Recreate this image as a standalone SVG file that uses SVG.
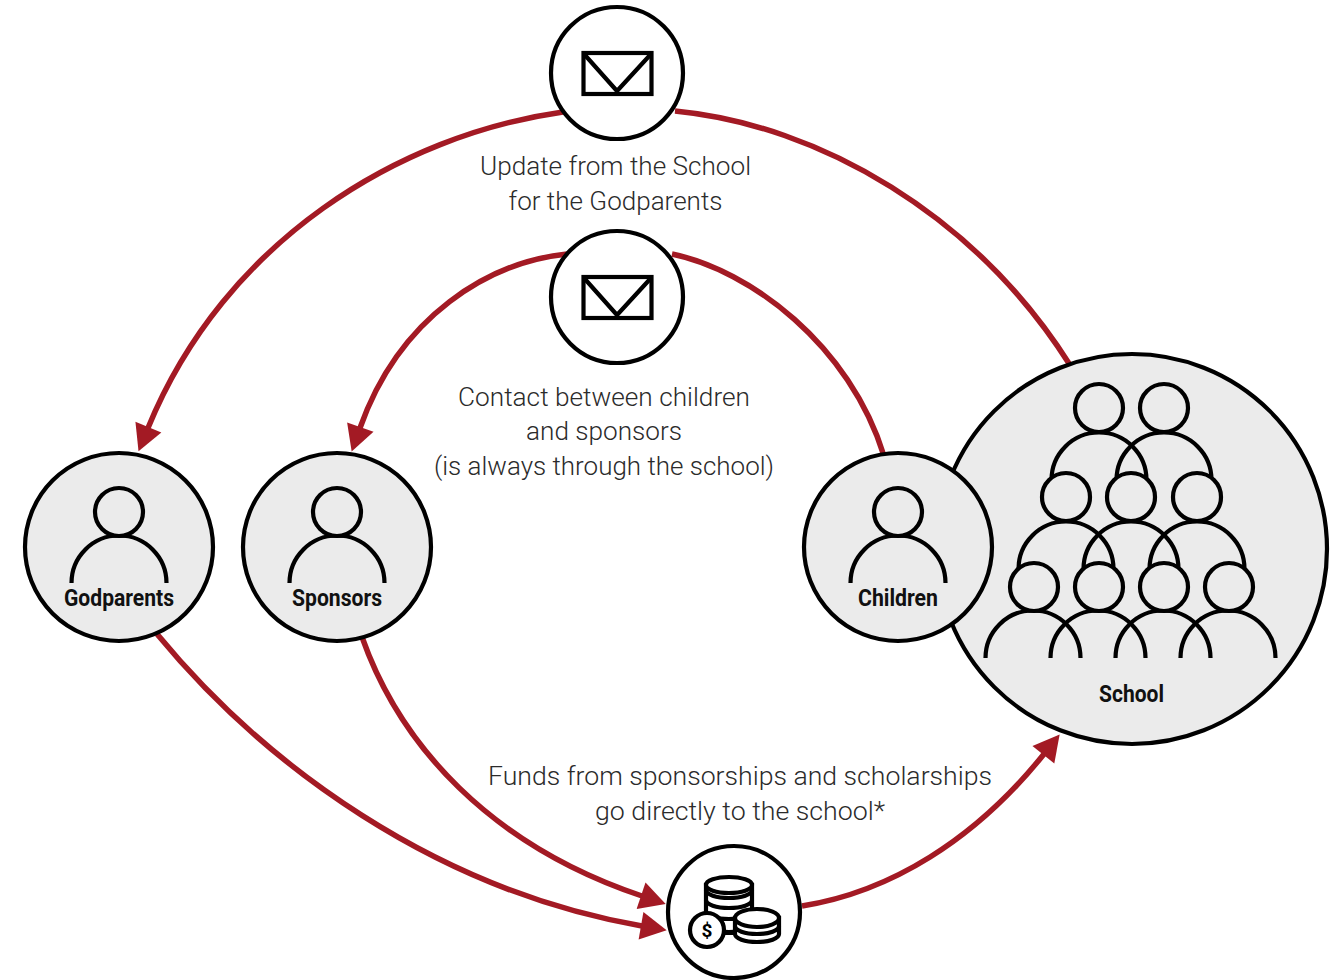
<svg xmlns="http://www.w3.org/2000/svg" xmlns:xlink="http://www.w3.org/1999/xlink" width="1344" height="980" viewBox="0 0 1344 980">
<style>
.conn{fill:none;stroke:#a31a24;stroke-width:5.500;marker-end:url(#arrow)}
.plain{fill:none;stroke:#a31a24;stroke-width:5.500}
.big{fill:#ebebeb;stroke:#000;stroke-width:4.200}
.icon{fill:#fff;stroke:#000;stroke-width:4.200}
.line{fill:none;stroke:#000;stroke-width:4.200}
.head{fill:#ebebeb;stroke:#000;stroke-width:4.200}
.cap{font-family:Roboto,"Liberation Sans",sans-serif;font-weight:300;font-size:26.400px;fill:#2b2b2b;text-anchor:middle}
.lab{font-family:Roboto,"Liberation Sans",sans-serif;font-weight:700;font-size:24px;fill:#111}
</style>
<defs>
<marker id="arrow" markerUnits="userSpaceOnUse" markerWidth="30" markerHeight="30" refX="1" refY="14" orient="auto" overflow="visible"><path d="M0,0L26,14L0,28Z" fill="#a31a24"/></marker>
<g id="person"><path class="line" d="M-47.500,36A47.500,47.500 0 0 1 47.500,36"/><circle class="head" cx="0" cy="-35" r="24"/></g>
<g id="envelope"><rect class="line" x="583.500" y="53" width="68" height="41"/><path class="line" d="M584,54L617,91L651,54"/></g>
<path id="body" class="line" d="M-47.500,48A47.500,47.500 0 0 1 47.500,48"/>
</defs>
<g id="connectors">
<path class="conn" d="M563,112C400,135 225,240 148,428"/>
<path class="plain" d="M675,111C820,125 975,215 1070,365"/>
<path class="conn" d="M567,254C490,262 400,315 360,428"/>
<path class="plain" d="M672,254C750,270 850,345 884,456"/>
<path class="conn" d="M157,634C265,765 435,890 642,926"/>
<path class="conn" d="M362,637C400,745 490,845 642,896"/>
<path class="conn" d="M802,906C890,892 975,840 1044,754"/>
</g>
<g id="school">
<circle class="big" cx="1132" cy="549" r="195"/>
<use href="#body" x="1099" y="432"/>
<use href="#body" x="1164" y="432"/>
<circle class="head" cx="1099" cy="408" r="24"/>
<circle class="head" cx="1164" cy="408" r="24"/>
<use href="#body" x="1066" y="521"/>
<use href="#body" x="1131" y="521"/>
<use href="#body" x="1197" y="521"/>
<circle class="head" cx="1066" cy="497" r="24"/>
<circle class="head" cx="1131" cy="497" r="24"/>
<circle class="head" cx="1197" cy="497" r="24"/>
<use href="#body" x="1033" y="610"/>
<use href="#body" x="1098" y="610"/>
<use href="#body" x="1163" y="610"/>
<use href="#body" x="1228" y="610"/>
<circle class="head" cx="1034" cy="587" r="24"/>
<circle class="head" cx="1099" cy="587" r="24"/>
<circle class="head" cx="1164" cy="587" r="24"/>
<circle class="head" cx="1229" cy="587" r="24"/>
<text class="lab" x="1099" y="702" textLength="65" lengthAdjust="spacingAndGlyphs">School</text>
</g>
<g id="godparents">
<circle class="big" cx="119" cy="547" r="94"/>
<use href="#person" x="119" y="547"/>
<text class="lab" x="64" y="606" textLength="110" lengthAdjust="spacingAndGlyphs">Godparents</text>
</g>
<g id="sponsors">
<circle class="big" cx="337" cy="547" r="94"/>
<use href="#person" x="337" y="547"/>
<text class="lab" x="292" y="606" textLength="90" lengthAdjust="spacingAndGlyphs">Sponsors</text>
</g>
<g id="children">
<circle class="big" cx="898" cy="547" r="94"/>
<use href="#person" x="898" y="547"/>
<text class="lab" x="858" y="606" textLength="80" lengthAdjust="spacingAndGlyphs">Children</text>
</g>
<g id="update">
<circle class="icon" cx="617" cy="73" r="66"/>
<use href="#envelope"/>
</g>
<g id="contact">
<circle class="icon" cx="617" cy="297" r="66"/>
<use href="#envelope" y="224"/>
</g>
<g id="funds">
<circle class="icon" cx="734" cy="912" r="66"/>
<path class="icon" d="M706,885V925A23,8 0 0 0 752,925V885Z"/>
<ellipse class="icon" cx="729" cy="885" rx="23" ry="8"/>
<path class="line" d="M706,890A23,8 0 0 0 752,890M706,900A23,8 0 0 0 752,900M706,911A23,8 0 0 0 752,911M706,924A23,8 0 0 0 752,924"/>
<path class="icon" d="M735,918V934A22,8 0 0 0 779,934V918Z"/>
<ellipse class="icon" cx="757" cy="918" rx="22" ry="9"/>
<path class="line" d="M735,926A22,8 0 0 0 779,926"/>
<circle class="icon" cx="707" cy="930" r="17"/>
<text x="707" y="937" text-anchor="middle" font-family="Roboto,'Liberation Sans',sans-serif" font-weight="700" font-size="19" fill="#000">$</text>
</g>
<g id="captions">
<text class="cap" x="615.500" y="175" textLength="271" lengthAdjust="spacingAndGlyphs">Update from the School</text>
<text class="cap" x="615.500" y="210" textLength="214" lengthAdjust="spacingAndGlyphs">for the Godparents</text>
<text class="cap" x="604" y="406" textLength="292" lengthAdjust="spacingAndGlyphs">Contact between children</text>
<text class="cap" x="604" y="440" textLength="156" lengthAdjust="spacingAndGlyphs">and sponsors</text>
<text class="cap" x="604" y="475" textLength="340" lengthAdjust="spacingAndGlyphs">(is always through the school)</text>
<text class="cap" x="740" y="785" textLength="504" lengthAdjust="spacingAndGlyphs">Funds from sponsorships and scholarships</text>
<text class="cap" x="740" y="820" textLength="290" lengthAdjust="spacingAndGlyphs">go directly to the school*</text>
</g>
</svg>
